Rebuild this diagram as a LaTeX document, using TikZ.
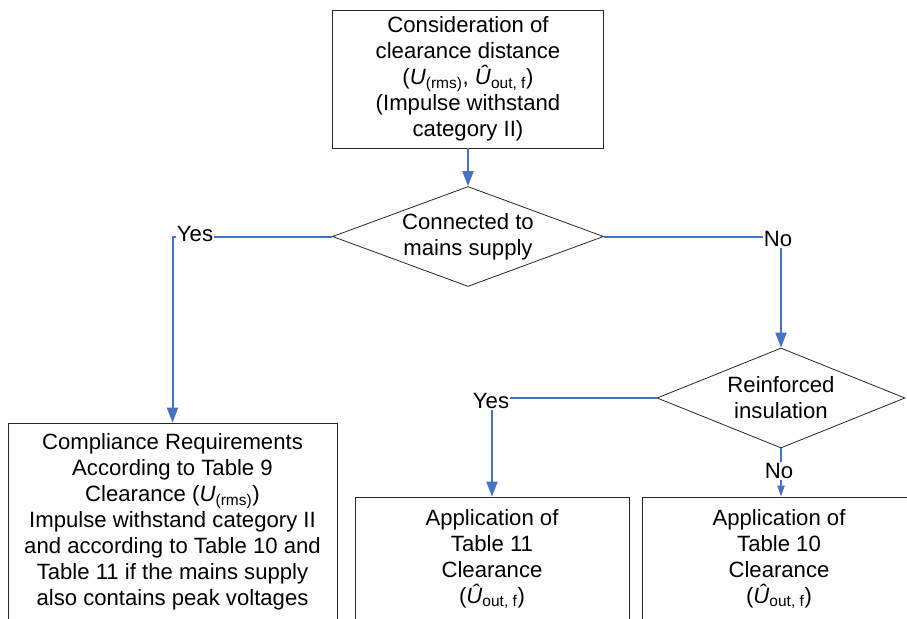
\documentclass[tikz,border=0pt]{standalone}
\usepackage{fontspec}
\setmainfont{Liberation Sans}
\usetikzlibrary{shapes.geometric,arrows.meta}
\newdimen\pxu \pxu=0.75pt
\definecolor{lineblue}{HTML}{4472C4}
\definecolor{boxline}{HTML}{262626}
\begin{document}
\begin{tikzpicture}[x=0.75pt,y=-0.75pt, font=\fontsize{16.6}{19.5}\selectfont,
 box/.style={draw=boxline, line width=0.6pt, rectangle, align=center, inner sep=0pt},
 dec/.style={draw=boxline, line width=0.6pt, diamond, align=center, inner sep=0pt, aspect=2.7},
 conn/.style={draw=lineblue, line width=1.5pt},
 arr/.style={conn, -{Triangle[length=11.25pt, width=8.25pt]}},
 arrsmall/.style={conn, -{Triangle[length=8.25pt, width=5.25pt]}},
 lbl/.style={fill=white, inner sep=1pt}]
\useasboundingbox (0,0) rectangle (907,618);
\clip (0,0) rectangle (907,618);

\node[box, minimum width=271\pxu, minimum height=138\pxu] (top) at (468,79)
 {Consideration of\\clearance distance\\(\textit{U}\textsubscript{(rms)}, \textit{Û}\textsubscript{out, f})\\(Impulse withstand\\category II)};
\node[dec, minimum width=271\pxu, minimum height=100\pxu] (d1) at (468,236.5) {Connected to\\mains supply};
\node[box, minimum width=329\pxu, minimum height=198\pxu] (comp) at (172.5,522)
 {Compliance Requirements\\According to Table 9\\Clearance (\textit{U}\textsubscript{(rms)})\\Impulse withstand category II\\and according to Table 10 and\\Table 11 if the mains supply\\also contains peak voltages};
\node[dec, minimum width=248\pxu, minimum height=100\pxu] (d2) at (781,398) {Reinforced\\insulation};
\node[box, minimum width=274\pxu, minimum height=124\pxu] (t11) at (492,559)
 {Application of\\Table 11\\Clearance\\(\textit{Û}\textsubscript{out, f})};
\node[box, minimum width=274\pxu, minimum height=124\pxu] (t10) at (779,559)
 {Application of\\Table 10\\Clearance\\(\textit{Û}\textsubscript{out, f})};

\draw[arr] (top.south) -- (d1.north);
\draw[arr] (d1.west) -| (comp.north);
\node[lbl] (yes1) at (195,234) {Yes};
\draw[arr] (d1.east) -| (d2.north);
\node[lbl] (no1) at (778,239) {No};
\draw[arr] (d2.west) -| (t11.north);
\node[lbl] (yes2) at (491,401) {Yes};
\draw[arrsmall] (d2.south) -- (d2.south |- t10.north);
\node[lbl] (no2) at (779,471) {No};
\end{tikzpicture}
\end{document}
